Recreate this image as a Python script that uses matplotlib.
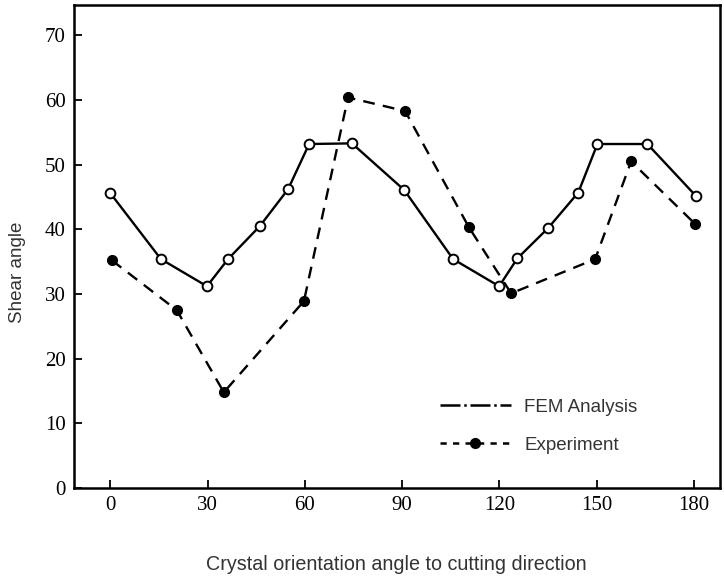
import matplotlib
matplotlib.use("Agg")
import matplotlib.pyplot as plt
from matplotlib.lines import Line2D

# FEM analysis results (open circles, solid line)
fem_angle = [0, 15.6, 29.8, 36.3, 46.1, 54.8, 61.3, 74.5, 90.6, 105.7,
             119.9, 125.5, 135.0, 144.3, 150.2, 165.6, 180.7]
fem_shear = [45.6, 35.4, 31.2, 35.4, 40.5, 46.2, 53.2, 53.3, 46.1, 35.4,
             31.2, 35.5, 40.2, 45.7, 53.2, 53.2, 45.1]

# Experimental measurements (filled circles, dashed line)
exp_angle = [0.5, 20.5, 35.0, 59.7, 73.3, 90.9, 110.6, 123.6, 149.5, 160.6, 180.4]
exp_shear = [35.2, 27.5, 14.8, 28.9, 60.4, 58.3, 40.3, 30.1, 35.4, 50.5, 40.8]

x_ticks = [0, 30, 60, 90, 120, 150, 180]
y_ticks = [0, 10, 20, 30, 40, 50, 60, 70]

fig = plt.figure(figsize=(7.24, 5.78), dpi=100)
ax = fig.add_axes([74 / 724, 90 / 578, 646 / 724, 483 / 578])

ax.plot(fem_angle, fem_shear, color="black", lw=1.7, marker="o",
        markersize=7, markerfacecolor="white", markeredgecolor="black",
        markeredgewidth=1.4, zorder=3)
ax.plot(exp_angle, exp_shear, color="black", lw=1.7, linestyle=(0, (5, 3.5)),
        marker="o", markersize=7, markerfacecolor="black",
        markeredgecolor="black", zorder=3)

ax.set_xlim(-11.2, 188)
ax.set_ylim(0, 74.7)
ax.set_xticks(x_ticks)
ax.set_yticks(y_ticks)

tick_font = dict(family="Liberation Serif", size=15)
ax.set_xticklabels([str(v) for v in x_ticks], fontdict=tick_font)
ax.set_yticklabels([str(v) for v in y_ticks], fontdict=tick_font)
ax.tick_params(direction="in", length=6, width=1.3, pad=6, colors="black")

for side in ax.spines.values():
    side.set_linewidth(1.8)

label_font = dict(family="Liberation Sans", color="#333333")
fig.text(18 / 724, 1 - 272 / 578, "Shear angle", rotation=90,
         ha="center", va="center", size=13.5, **label_font)
fig.text(396 / 724, 1 - 565 / 578, "Crystal orientation angle to cutting direction",
         ha="center", va="center", size=14.2, **label_font)

handles = [
    Line2D([], [], color="black", lw=1.8, linestyle=(0, (8, 1.5, 1, 1.5))),
    Line2D([], [], color="black", lw=1.8, linestyle=(0, (2.5, 2.5)),
           marker="o", markersize=7, markerfacecolor="black"),
]
leg = ax.legend(handles, ["FEM Analysis", "Experiment"], loc="center left",
                bbox_to_anchor=(0.566, 0.128), frameon=False, borderpad=0,
                borderaxespad=0, handlelength=3.8, handletextpad=0.7,
                labelspacing=1.1, numpoints=1,
                prop=dict(family="Liberation Sans", size=13.5))
for t in leg.get_texts():
    t.set_color("#333333")

fig.savefig("out.png", dpi=100)
